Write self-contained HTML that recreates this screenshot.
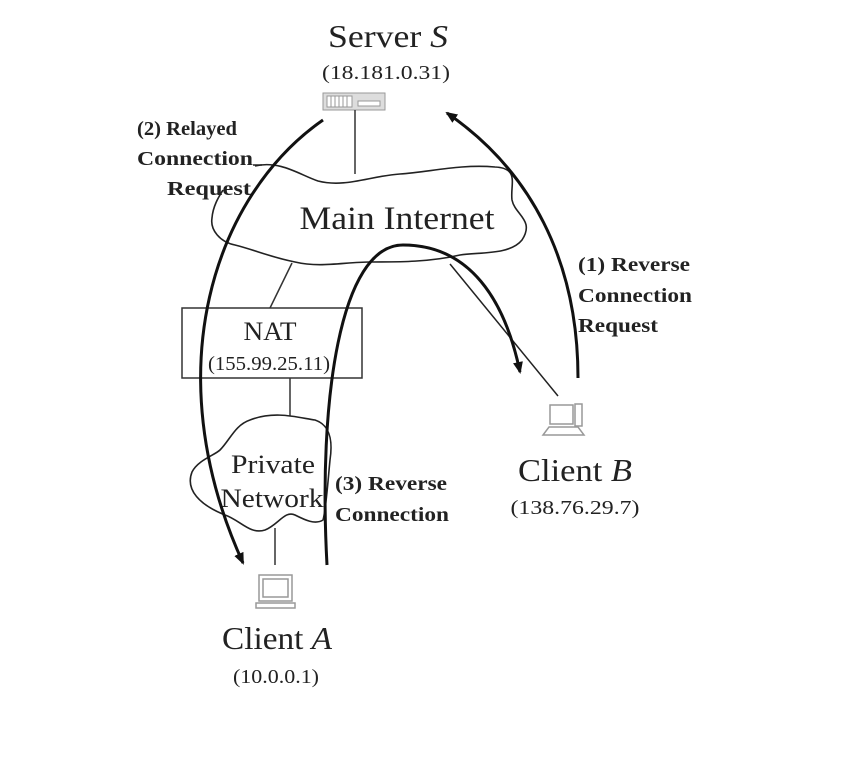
<!DOCTYPE html>
<html><head><meta charset="utf-8"><style>
html,body{margin:0;padding:0;background:#fff;}
svg{display:block;}
text{font-family:"Liberation Serif",serif;fill:#222;}
.b{font-weight:bold;font-size:20px;}
</style></head><body>
<svg width="845" height="761" viewBox="0 0 845 761" xmlns="http://www.w3.org/2000/svg">
<defs>
<marker id="ah" markerWidth="12" markerHeight="10" refX="10" refY="5" orient="auto" markerUnits="userSpaceOnUse">
<path d="M0,0 L12,5 L0,10 Z" fill="#111"/>
</marker>
</defs>
<rect width="845" height="761" fill="#fff"/>
<!-- Server -->
<text x="388" y="47" font-size="32" text-anchor="middle" textLength="120" lengthAdjust="spacingAndGlyphs">Server <tspan font-style="italic">S</tspan></text>
<text x="386" y="79" font-size="20" text-anchor="middle" textLength="128" lengthAdjust="spacingAndGlyphs">(18.181.0.31)</text>
<g stroke="#999" fill="#ddd" stroke-width="1">
<rect x="323" y="93" width="62" height="17"/>
<rect x="327" y="96" width="25" height="11" fill="#fff"/>
<line x1="331" y1="96" x2="331" y2="107"/><line x1="335" y1="96" x2="335" y2="107"/><line x1="339" y1="96" x2="339" y2="107"/><line x1="343" y1="96" x2="343" y2="107"/><line x1="347" y1="96" x2="347" y2="107"/>
<rect x="358" y="101" width="22" height="5" fill="#fff"/>
</g>
<line x1="355" y1="110" x2="355" y2="174" stroke="#333" stroke-width="1.5"/>
<!-- Main Internet cloud -->
<path d="M255,166 C280,160 300,175 318,181 C345,188 370,176 400,174 C430,172 460,164 495,167 C520,168 510,185 512,200 C515,215 535,220 522,240 C510,255 480,252 460,255 C430,262 400,262 370,262 C345,262 320,268 295,262 C270,257 255,250 235,245 C220,242 210,230 212,218 C213,205 220,195 223,190" fill="none" stroke="#222" stroke-width="1.6"/>
<line x1="253" y1="165" x2="262" y2="165" stroke="#222" stroke-width="1.5"/>
<text x="397" y="229" font-size="33" text-anchor="middle" textLength="195" lengthAdjust="spacingAndGlyphs">Main Internet</text>
<!-- labels 2 -->
<text x="137" y="135" class="b" textLength="100" lengthAdjust="spacingAndGlyphs">(2) Relayed</text>
<text x="137" y="165" class="b" textLength="116" lengthAdjust="spacingAndGlyphs">Connection</text>
<text x="167" y="195" class="b" textLength="84" lengthAdjust="spacingAndGlyphs">Request</text>
<!-- labels 1 -->
<text x="578" y="271" class="b" textLength="112" lengthAdjust="spacingAndGlyphs">(1) Reverse</text>
<text x="578" y="302" class="b" textLength="114" lengthAdjust="spacingAndGlyphs">Connection</text>
<text x="578" y="332" class="b" textLength="80" lengthAdjust="spacingAndGlyphs">Request</text>
<!-- NAT -->
<line x1="292" y1="263" x2="270" y2="308" stroke="#333" stroke-width="1.5"/>
<rect x="182" y="308" width="180" height="70" fill="none" stroke="#333" stroke-width="1.5"/>
<text x="270" y="340" font-size="26" text-anchor="middle" textLength="53" lengthAdjust="spacingAndGlyphs">NAT</text>
<text x="269" y="370" font-size="20" text-anchor="middle" textLength="122" lengthAdjust="spacingAndGlyphs">(155.99.25.11)</text>
<line x1="290" y1="378" x2="290" y2="416" stroke="#333" stroke-width="1.5"/>
<!-- Private network cloud -->
<path d="M250,420 C275,410 300,418 315,420 C330,425 333,440 330,460 C328,480 326,510 323,520 C315,525 305,520 295,515 C285,510 278,525 265,530 C250,535 240,520 225,515 C200,505 185,490 192,472 C198,460 215,455 220,450 C230,440 235,425 250,420 Z" fill="none" stroke="#222" stroke-width="1.6"/>
<text x="273" y="473" font-size="26" text-anchor="middle" textLength="84" lengthAdjust="spacingAndGlyphs">Private</text>
<text x="272" y="507" font-size="26" text-anchor="middle" textLength="103" lengthAdjust="spacingAndGlyphs">Network</text>
<text x="335" y="490" class="b" textLength="112" lengthAdjust="spacingAndGlyphs">(3) Reverse</text>
<text x="335" y="521" class="b" textLength="114" lengthAdjust="spacingAndGlyphs">Connection</text>
<line x1="275" y1="528" x2="275" y2="565" stroke="#333" stroke-width="1.5"/>
<!-- Client A icon -->
<g stroke="#999" fill="none" stroke-width="1.5">
<rect x="259" y="575" width="33" height="26"/>
<rect x="263" y="579" width="25" height="18"/>
<rect x="256" y="603" width="39" height="5"/>
</g>
<text x="277" y="649" font-size="32" text-anchor="middle" textLength="110" lengthAdjust="spacingAndGlyphs">Client <tspan font-style="italic">A</tspan></text>
<text x="276" y="683" font-size="20" text-anchor="middle" textLength="86" lengthAdjust="spacingAndGlyphs">(10.0.0.1)</text>
<!-- Client B icon -->
<line x1="450" y1="264" x2="558" y2="396" stroke="#222" stroke-width="1.5"/>
<g stroke="#999" fill="none" stroke-width="1.5">
<rect x="550" y="405" width="23" height="19"/>
<rect x="575" y="404" width="7" height="22"/>
<path d="M549,427 L578,427 L584,435 L543,435 Z"/>
</g>
<text x="575" y="481" font-size="32" text-anchor="middle" textLength="114" lengthAdjust="spacingAndGlyphs">Client <tspan font-style="italic">B</tspan></text>
<text x="575" y="514" font-size="20" text-anchor="middle" textLength="129" lengthAdjust="spacingAndGlyphs">(138.76.29.7)</text>
<!-- arcs -->
<path d="M323,120 C215,195 155,370 243,563" fill="none" stroke="#111" stroke-width="3" marker-end="url(#ah)"/>
<path d="M578,378 C578,260 530,170 447,113" fill="none" stroke="#111" stroke-width="3" marker-end="url(#ah)"/>
<path d="M327,565 C318,400 340,245 403,245 C470,245 505,300 520,372" fill="none" stroke="#111" stroke-width="3" marker-end="url(#ah)"/>
</svg>
</body></html>
